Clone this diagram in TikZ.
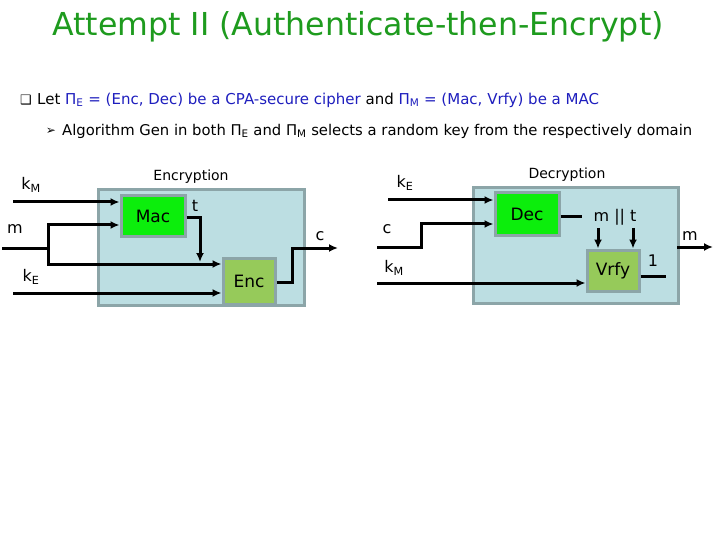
\documentclass[tikz,border=0pt]{standalone}
\usepackage{fontspec}
\setmainfont{DejaVu Sans}
\newfontfamily\dejavu{DejaVu Sans}
\usetikzlibrary{arrows.meta}
\definecolor{titlegreen}{RGB}{30,155,30}
\definecolor{txtblue}{RGB}{30,30,190}
\definecolor{boxfill}{RGB}{188,222,226}
\definecolor{boxborder}{RGB}{140,165,168}
\definecolor{brightgreen}{RGB}{12,238,12}
\definecolor{olivegreen}{RGB}{150,202,90}
\newcommand{\PiSym}{{\dejavu Π}}
\begin{document}
\begin{tikzpicture}[x=1pt,y=-1pt,
  outerbox/.style={draw=boxborder, fill=boxfill, line width=3pt, inner sep=0pt},
  funcbox/.style={draw=boxborder, line width=3pt, inner sep=0pt, font=\fontsize{17}{20}\selectfont},
  conn/.style={line width=3pt},
  arr/.style={line width=3pt, -{Latex[length=9pt,width=8pt]}},
  lbl/.style={inner sep=0pt, font=\fontsize{16}{20}\selectfont},
  captext/.style={inner sep=0pt, font=\fontsize{14}{16}\selectfont}]
\fill[white] (0,0) rectangle (720,540);
\useasboundingbox (0,0) rectangle (720,540);

% title and bullets
\node[text=titlegreen, font=\fontsize{31.6}{36}\selectfont, inner sep=0pt] (title) at (358,27) {Attempt II (Authenticate-then-Encrypt)};
\node[inner sep=0pt, font=\dejavu\fontsize{13}{14}\selectfont] (b1) at (26,100) {❑};
\node[anchor=west, inner sep=0pt, font=\fontsize{15}{16}\selectfont] (l1) at (37,100)
  {Let \textcolor{txtblue}{\PiSym\textsubscript{E} = (Enc, Dec) be a CPA-secure cipher} and \textcolor{txtblue}{\PiSym\textsubscript{M} = (Mac, Vrfy) be a MAC}};
\node[inner sep=0pt, font=\dejavu\fontsize{12}{14}\selectfont] (b2) at (51,131) {➢};
\node[anchor=west, inner sep=0pt, font=\fontsize{14.8}{16}\selectfont] (l2) at (62,131)
  {Algorithm Gen in both \PiSym\textsubscript{E} and \PiSym\textsubscript{M} selects a random key from the respectively domain};

% encryption side
\node[outerbox, minimum width=206pt, minimum height=115pt] (encbox) at (201,247.5) {};
\node[captext] (enccap) at (191,177) {Encryption};
\node[funcbox, fill=brightgreen, minimum width=64pt, minimum height=40pt] (mac) at (153,216) {Mac};
\node[funcbox, fill=olivegreen, minimum width=52pt, minimum height=46pt] (enc) at (249,281) {Enc};

\node[lbl] (kMe) at (31,185) {k\textsubscript{M}};
\node[lbl] (me) at (15,229) {m};
\node[lbl] (kEe) at (31,277) {k\textsubscript{E}};
\node[lbl] (te) at (195,206) {t};
\node[lbl] (ce) at (320,236) {c};

\coordinate (kMin) at (13,202);
\coordinate (min) at (2,248);
\coordinate (mfork) at (48,248);
\coordinate (kEin) at (13,293);
\coordinate (tbend) at (200,218);
\coordinate (cbend) at (292,248);
\coordinate (cout) at (338,248);

\draw[arr] (kMin) -- (kMin -| mac.west);
\draw[conn] (min) -- (mfork);
\draw[arr] (mfork) |- (mfork |- 225,225) -- (mac.west |- 0,225);
\draw[arr] (mfork) |- (enc.west |- 0,264);
\draw[arr] (mac.east |- tbend) -- (tbend) -- (tbend |- 0,262);
\draw[arr] (kEin) -- (kEin -| enc.west);
\draw[arr] (enc.east |- 0,282) -| (cbend) -- (cout);

% decryption side
\node[outerbox, minimum width=205pt, minimum height=115pt] (decbox) at (575.5,245.5) {};
\node[captext] (deccap) at (567,175) {Decryption};
\node[funcbox, fill=brightgreen, minimum width=64pt, minimum height=42pt] (dec) at (527,214) {Dec};
\node[funcbox, fill=olivegreen, minimum width=52pt, minimum height=41pt] (vrfy) at (613,270.5) {Vrfy};

\node[lbl] (kEd) at (405,183) {k\textsubscript{E}};
\node[lbl] (cd) at (387,229) {c};
\node[lbl] (kMd) at (394,268) {k\textsubscript{M}};
\node[lbl] (mt) at (615,217) {m || t};
\node[lbl] (one) at (653,261) {1};
\node[lbl] (md) at (690,236) {m};

\coordinate (kEdin) at (388,200);
\coordinate (cdin) at (377,247);
\coordinate (cdbend) at (421,247);
\coordinate (kMdin) at (377,283);
\coordinate (decout) at (582,217);
\coordinate (vout) at (666,276);
\coordinate (mdin) at (677,247);
\coordinate (mdout) at (713,247);
\coordinate (mtop) at (598,228);
\coordinate (ttop) at (633,228);

\draw[arr] (kEdin) -- (kEdin -| dec.west);
\draw[arr] (cdin) -- (cdbend) |- (dec.west |- 0,224);
\draw[arr] (kMdin) -- (kMdin -| vrfy.west);
\draw[conn] (dec.east |- decout) -- (decout);
\draw[arr] (mtop) -- (mtop |- vrfy.north);
\draw[arr] (ttop) -- (ttop |- vrfy.north);
\draw[conn] (vrfy.east |- vout) -- (vout);
\draw[arr] (mdin) -- (mdout);
\end{tikzpicture}
\end{document}
